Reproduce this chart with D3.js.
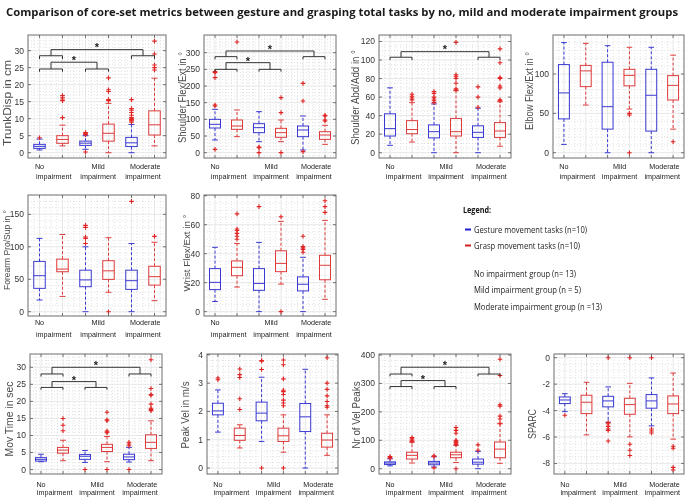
<!DOCTYPE html>
<html><head><meta charset="utf-8">
<script src="https://cdn.jsdelivr.net/npm/d3@7"></script>
<style>body{margin:0;background:#fff}svg{display:block;will-change:transform}</style>
</head><body>
<svg id="c" width="685" height="498"></svg>
<script>
// ---------- DATA ----------
const titleText = "Comparison of core-set metrics between gesture and grasping total tasks by no, mild and moderate impairment groups";
const boxOrder = ["No/gesture","No/grasp","Mild/gesture","Mild/grasp","Moderate/gesture","Moderate/grasp"];
const xTickLabels = [["No","impairment"],["Mild","impairment"],["Moderate","impairment"]];
// each box: [lower whisker, Q1, median, Q3, upper whisker]
const trunkDisp = [[0.8,1.27,1.86,2.45,4.0],[2.0,2.75,3.9,5.0,8.1],[1.0,2.15,2.8,3.4,5.0],[0,3.4,5.7,8.4,14.5],[0,1.8,2.9,4.5,8.3],[2.0,5.2,8.2,12.3,21.9]];
const trunkDispOut = [[4.4],[10.3,15.3,15.8,16.3,16.8],[5.3,5.5,5.7,5.9,0.2],[15.3,15.6,18.0,18.5,22.0],[9.0,9.4,9.6,9.8,10.0,10.3,11.0,11.8,12.5,13.0,15.6],[24.3,25.0,25.8,29.0,32.8]];
const shoulderFlex = [[38,74,85,100,130],[48,70,80,98,128],[33,60,75,87,123],[33,46,60,73,98],[8,48,68,80,110],[25,40,53,63,82]];
const shoulderFlexOut = [[140,143,225,240,243,10],[332],[15,17,0],[120,165,0],[155,208,3],[95,98,110,112]];
const shoulderAbd = [[8,18,26,42,70],[11.5,20.5,25,34.6,54],[0,16,22.7,30,52.6],[0,18,22.7,37,67],[0,16.5,22,29,48],[7,16.5,23.4,32.5,55]];
const shoulderAbdOut = [[],[57,59,61,63],[54,56,58,60,64,66],[68,69,75,80,82,84,119],[49,60,71],[56,57,70,72,80,81,97,112]];
const elbow = [[10.6,43,76,112,140],[60.6,84,104,111,139],[0,30,58.5,115,136],[55.5,85,98.3,106,134],[0,27.5,73,106,134],[30,67,85.6,98,124]];
const elbowOut = [[],[],[],[48,50,0],[],[14]];
const forearm = [[18,36,55.5,77.5,113],[23.6,61.6,65.7,81,119],[0,38.5,49,64,100],[30,49.8,63,78.6,114],[0,34.4,47.8,64,105],[17,41,54,70,107]];
const forearmOut = [[],[],[105,113,115,130,133],[0],[170],[116]];
const wrist = [[7,15.2,20.2,29.7,44.4],[17,24.8,30.6,35,47],[0,14.7,19.5,29.7,47.8],[19,27.6,33.3,42,62.3],[0,14.3,18.9,24,37.5],[8.5,22,32,38.9,63]];
const wristOut = [[],[50,52,54,56,57,67.5],[72.5],[65.5,0],[41,43,44,45,52],[68.5,72.5,76.5]];
const movTime = [[2.3,2.5,3.0,3.5,4.5],[2.6,4.8,5.7,6.5,8.6],[2.1,3.0,3.9,4.4,5.6],[2.3,5.3,6.5,7.4,9.7],[2.2,2.9,3.7,4.5,6.5],[2.6,6.2,8.0,10.2,14.3]];
const movTimeOut = [[],[11.4,13.0,15.0],[0],[10.8,11.0,11.3,14.3,14.6,16.8,0],[7.0,7.5,8.0,0],[17.3,17.6,18.0,19.2,21.8,22.0,23.8,32.2]];
const peakVel = [[1.27,1.88,2.02,2.29,2.76],[0.71,0.98,1.15,1.41,1.53],[0.94,1.67,1.94,2.33,3.21],[0.56,0.94,1.14,1.41,1.88],[0,1.29,1.81,2.28,3.49],[0.45,0.74,0.99,1.23,1.88]];
const peakVelOut = [[3.12,3.18],[2.07,2.45,3.2,3.3,3.5],[3.48,3.78,3.8,0],[2.2,2.3,2.4,2.6,2.7,2.75,3.15,3.65,3.82,0],[],[2.15,2.2,2.35,2.55,2.78,3.0,3.9]];
const velPeaks = [[10,15,20,24,35],[20,34,47,58,93],[6,14,20,25.7,42],[22,38.6,49,58,82],[0,16,23,34,61],[19,38.6,69,94,158]];
const velPeaksOut = [[37,40,43],[96,100,105,110],[43,45,3],[85,90,93,97,100,125,135,145,0],[65,84],[160,175,185,220,225,328,385]];
const sparc = [[-4.08,-3.47,-3.2,-2.97,-2.72],[-5.84,-4.23,-3.37,-2.84,-1.86],[-4.88,-3.72,-3.27,-2.92,-2.21],[-5.99,-4.28,-3.55,-3.07,-1.94],[-5.16,-3.82,-3.27,-2.79,-1.53],[-6.16,-4.23,-3.5,-2.89,-1.16]];
const sparcOut = [[-4.35],[],[-4.9,-5.0,-5.2,-5.4,-5.5,-6.3,0],[-6.55,-7.0,-7.4,0],[-5.4,-5.55,-5.7,0],[-6.7,-6.85,-8.3,-8.5]];
// significance brackets: [arm level, arm tick end, top level, star level, first box of right pair]
const trunkBrackets = [[28.5,27.5,30.3,31.7,5],[24.6,23.8,26.6,27.8,3]];
const shoulderFlexBrackets = [[288,280,305,318,5],[250,243,270,280,3]];
const shoulderAbdBrackets = [[103,100,109,114,5]];
const movTimeBrackets = [[28.05,27.3,30.0,31.2,5],[24.1,23.4,25.8,27.0,3]];
const velPeaksBrackets = [[333,325,357,371,5],[289,280,310,324,3]];
// tick values
const trunkTicks = [0,5,10,15,20,25,30];
const shoulderFlexTicks = [0,50,100,150,200,250,300];
const shoulderAbdTicks = [0,20,40,60,80,100,120];
const elbowTicks = [0,50,100];
const forearmTicks = [0,50,100,150];
const wristTicks = [0,20,40,60,80];
const movTimeTicks = [0,5,10,15,20,25,30];
const peakVelTicks = [0,1,2,3,4];
const velPeaksTicks = [0,100,200,300,400];
const sparcTicks = [0,-2,-4,-6,-8];
const yLabels = ["TrunkDisp in cm","Shoulder Flex/Ext in °","Shoulder Abd/Add in °","Elbow Flex/Ext in °","Forearm Pro/Sup in °","Wrist Flex/Ext in °","Mov Time in sec","Peak Vel in m/s","Nr of Vel Peaks","SPARC"];
const legendItems = ["Gesture movement tasks (n=10)","Grasp movement tasks (n=10)"];
const groupSizes = ["No impairment group (n= 13)","Mild impairment group (n = 5)","Moderate impairment group (n =13)"];

// ---------- LAYOUT ----------
const svg = d3.select("#c");
const BLUE = "#3a3ad2", RED = "#de3c3c", OUT = "#e02424";
svg.append("rect").attr("width",685).attr("height",498).attr("fill","#fff");
svg.append("text").attr("x",6).attr("y",16).attr("font-family","Open Sans, Liberation Sans, sans-serif")
  .attr("font-weight","700").attr("font-size",11).attr("fill","#1a1a1a")
  .attr("textLength",672).attr("lengthAdjust","spacingAndGlyphs").text(titleText);

const panels = [
  {data:trunkDisp,out:trunkDispOut,br:trunkBrackets,ticks:trunkTicks,minor:1,dom:[-1.56,34.6],x:[28,166],y:[35,158],lab:0,lx:7,ly:103,ll:86,fs:11,row:0},
  {data:shoulderFlex,out:shoulderFlexOut,br:shoulderFlexBrackets,ticks:shoulderFlexTicks,minor:10,dom:[-16,353],x:[204,336],y:[35,158],lab:1,lx:182,ly:97.5,ll:91,fs:10.5,row:0},
  {data:shoulderAbd,out:shoulderAbdOut,br:shoulderAbdBrackets,ticks:shoulderAbdTicks,minor:5,dom:[-5.7,127],x:[379,511],y:[35,158],lab:2,lx:355,ly:97.5,ll:95,fs:10.5,row:0},
  {data:elbow,out:elbowOut,br:[],ticks:elbowTicks,minor:10,dom:[-6.7,149.6],x:[553,684],y:[35,158],lab:3,lx:529,ly:91,ll:78,fs:10.5,row:0},
  {data:forearm,out:forearmOut,br:[],ticks:forearmTicks,minor:10,dom:[-6.6,179.8],x:[28,166],y:[195,316],lab:4,lx:6.5,ly:250,ll:80,fs:9.5,row:1},
  {data:wrist,out:wristOut,br:[],ticks:wristTicks,minor:5,dom:[-3,80.5],x:[204,336],y:[195,316],lab:5,lx:186,ly:253,ll:77,fs:9.5,row:1},
  {data:movTime,out:movTimeOut,br:movTimeBrackets,ticks:movTimeTicks,minor:1,dom:[-1.3,33.9],x:[30,162],y:[354,474],lab:6,lx:9,ly:419,ll:75,fs:10.5,row:2},
  {data:peakVel,out:peakVelOut,br:[],ticks:peakVelTicks,minor:0.2,dom:[-0.21,4.03],x:[207,338],y:[354,474],lab:7,lx:185,ly:415,ll:67,fs:10.5,row:2},
  {data:velPeaks,out:velPeaksOut,br:velPeaksBrackets,ticks:velPeaksTicks,minor:20,dom:[-18.6,403.5],x:[379,511],y:[354,474],lab:8,lx:356,ly:415,ll:67,fs:10.5,row:2},
  {data:sparc,out:sparcOut,br:[],ticks:sparcTicks,minor:0.5,dom:[-8.8,0.28],x:[554,684],y:[354,474],lab:9,lx:532,ly:424,ll:30,fs:10.5,row:2}
];
const rowLabelY = [[168.5,178.5],[325,337],[487,495]];
const xLabPos = [[1.0,1.62],[3.55,3.55],[5.6,5.5]];

panels.forEach(p=>{
  const g = svg.append("g");
  const x = d3.scaleLinear([0.5,6.5],p.x);
  const y = d3.scaleLinear(p.dom,[p.y[1],p.y[0]]);
  g.append("rect").attr("x",p.x[0]).attr("y",p.y[0]).attr("width",p.x[1]-p.x[0]).attr("height",p.y[1]-p.y[0]).attr("fill","#fff");
  // minor grid
  const ymin = d3.range(Math.ceil(p.dom[0]/p.minor)*p.minor, p.dom[1], p.minor).filter(v=>!p.ticks.some(t=>Math.abs(t-v)<1e-6));
  g.selectAll(null).data(ymin).join("line").attr("x1",p.x[0]).attr("x2",p.x[1]).attr("y1",d=>y(d)).attr("y2",d=>y(d))
    .attr("stroke","#cfcfcf").attr("stroke-width",0.6).attr("stroke-dasharray","1,2");
  const xmin = d3.range(0.75,6.5,0.25).filter(v=>Math.abs(v-Math.round(v))>0.01);
  g.selectAll(null).data(xmin).join("line").attr("y1",p.y[0]).attr("y2",p.y[1]).attr("x1",d=>x(d)).attr("x2",d=>x(d))
    .attr("stroke","#cfcfcf").attr("stroke-width",0.6).attr("stroke-dasharray","1,2");
  // major grid
  g.selectAll(null).data(p.ticks).join("line").attr("x1",p.x[0]).attr("x2",p.x[1]).attr("y1",d=>y(d)).attr("y2",d=>y(d))
    .attr("stroke","#e2e2e2").attr("stroke-width",0.8);
  g.selectAll(null).data(d3.range(1,7)).join("line").attr("y1",p.y[0]).attr("y2",p.y[1]).attr("x1",d=>x(d)).attr("x2",d=>x(d))
    .attr("stroke","#e2e2e2").attr("stroke-width",0.8);
  // boxes
  p.data.forEach((b,i)=>{
    const c = i%2===0?BLUE:RED, cx = x(i+1), hw = x(1.25)-x(1), cw = x(1.13)-x(1);
    const bg = g.append("g").attr("stroke",c).attr("fill","none").attr("stroke-width",1);
    bg.append("line").attr("x1",cx).attr("x2",cx).attr("y1",y(b[3])).attr("y2",y(b[4])).attr("stroke-dasharray","3,2");
    bg.append("line").attr("x1",cx).attr("x2",cx).attr("y1",y(b[1])).attr("y2",y(b[0])).attr("stroke-dasharray","3,2");
    bg.append("line").attr("x1",cx-cw).attr("x2",cx+cw).attr("y1",y(b[4])).attr("y2",y(b[4]));
    bg.append("line").attr("x1",cx-cw).attr("x2",cx+cw).attr("y1",y(b[0])).attr("y2",y(b[0]));
    bg.append("rect").attr("x",cx-hw).attr("width",2*hw).attr("y",y(b[3])).attr("height",Math.max(0.5,y(b[1])-y(b[3])));
    bg.append("line").attr("x1",cx-hw).attr("x2",cx+hw).attr("y1",y(b[2])).attr("y2",y(b[2]));
    const og = g.append("g").attr("stroke",OUT).attr("stroke-width",1.1);
    p.out[i].forEach(v=>{
      og.append("path").attr("d",`M${cx-2.3},${y(v)}h4.6M${cx},${y(v)-2.3}v4.6`);
    });
  });
  // brackets
  p.br.forEach(b=>{
    const [arm,tk,top,star,rp] = b;
    const bg = g.append("g").attr("stroke","#333").attr("fill","none").attr("stroke-width",1);
    const mid = rp+0.5;
    bg.append("path").attr("d",`M${x(1)},${y(tk)}V${y(arm)}H${x(2)}V${y(tk)}`);
    bg.append("path").attr("d",`M${x(rp)},${y(tk)}V${y(arm)}H${x(rp+1)}V${y(tk)}`);
    bg.append("path").attr("d",`M${x(1.5)},${y(arm)}V${y(top)}H${x(mid)}V${y(arm)}`);
    g.append("text").attr("x",x((1.5+mid)/2)).attr("y",y(star)+6).attr("text-anchor","middle")
      .attr("font-family","Liberation Sans, Arial, sans-serif").attr("font-weight","700").attr("font-size",11).attr("fill","#222").text("*");
  });
  // frame
  g.append("rect").attr("x",p.x[0]).attr("y",p.y[0]).attr("width",p.x[1]-p.x[0]).attr("height",p.y[1]-p.y[0])
    .attr("fill","none").attr("stroke","#6e6e6e").attr("stroke-width",1);
  // ticks
  const tg = g.append("g").attr("stroke","#555").attr("stroke-width",0.8);
  p.ticks.forEach(t=>{
    tg.append("line").attr("x1",p.x[0]).attr("x2",p.x[0]+3).attr("y1",y(t)).attr("y2",y(t));
    tg.append("line").attr("x1",p.x[1]).attr("x2",p.x[1]-3).attr("y1",y(t)).attr("y2",y(t));
  });
  d3.range(1,7).forEach(t=>{
    tg.append("line").attr("y1",p.y[1]).attr("y2",p.y[1]-3).attr("x1",x(t)).attr("x2",x(t));
    tg.append("line").attr("y1",p.y[0]).attr("y2",p.y[0]+3).attr("x1",x(t)).attr("x2",x(t));
  });
  g.selectAll(null).data(p.ticks).join("text").attr("x",p.x[0]-4).attr("y",d=>y(d)).attr("dy","0.35em")
    .attr("text-anchor","end").attr("font-family","Liberation Sans, Arial, sans-serif").attr("font-size",8.5).attr("fill","#333").text(d=>d);
  // x labels
  const ry = rowLabelY[p.row];
  xTickLabels.forEach((lines,k)=>{
    lines.forEach((s,j)=>{
      g.append("text").attr("x",x(xLabPos[k][j])).attr("y",ry[j]).attr("text-anchor","middle")
        .attr("font-family","Liberation Sans, Arial, sans-serif").attr("font-size",7.2).attr("fill","#222").text(s);
    });
  });
  // y label
  g.append("text").attr("transform",`translate(${p.lx+3.5},${p.ly}) rotate(-90)`).attr("text-anchor","middle")
    .attr("font-family","Liberation Sans, Arial, sans-serif").attr("font-size",p.fs).attr("fill","#4a4a4a")
    .attr("textLength",p.ll).attr("lengthAdjust","spacingAndGlyphs").text(yLabels[p.lab]);
});

// legend
const LF = "Open Sans, Liberation Sans, sans-serif";
svg.append("text").attr("x",463).attr("y",213).attr("font-family",LF).attr("font-weight","700").attr("font-size",9)
  .attr("fill","#111").attr("textLength",28).attr("lengthAdjust","spacingAndGlyphs").text("Legend:");
const legY = [232.5,248.5], legL = [113,106], legC = ["#1f1fd0","#d42020"];
legendItems.forEach((s,i)=>{
  svg.append("line").attr("x1",465).attr("x2",471).attr("y1",legY[i]-3).attr("y2",legY[i]-3).attr("stroke",legC[i]).attr("stroke-width",2);
  svg.append("text").attr("x",474).attr("y",legY[i]).attr("font-family",LF).attr("font-size",9).attr("fill","#222")
    .attr("textLength",legL[i]).attr("lengthAdjust","spacingAndGlyphs").text(s);
});
const grpY = [276.5,292.5,310], grpL = [102,107,128];
groupSizes.forEach((s,i)=>{
  svg.append("text").attr("x",474).attr("y",grpY[i]).attr("font-family",LF).attr("font-size",9).attr("fill","#222")
    .attr("textLength",grpL[i]).attr("lengthAdjust","spacingAndGlyphs").text(s);
});
</script>
</body></html>
